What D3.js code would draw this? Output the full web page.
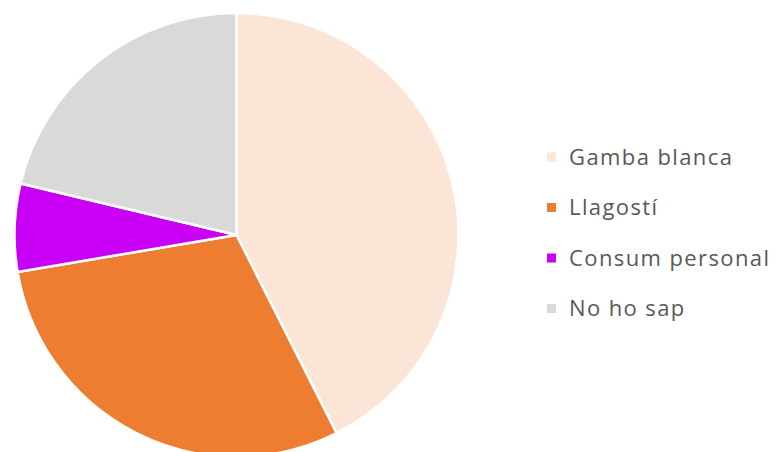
<!DOCTYPE html>
<html>
<head>
<meta charset="utf-8">
<script src="https://cdn.jsdelivr.net/npm/d3@7"></script>
<style>
  body { margin: 0; background: #fff; }
</style>
</head>
<body>
<div id="chart"></div>
<script>
// categories and values (respondents)
var categories = ["Gamba blanca", "Llagostí", "Consum personal", "No ho sap"];
var values = [20, 14, 3, 10];
var colors = ["#FBE5D6", "#ED7D31", "#C800F5", "#D9D9D9"];

var width = 777, height = 452;
var cx = 236.5, cy = 235, radius = 222;

var svg = d3.select("#chart")
    .append("svg")
    .attr("width", width)
    .attr("height", height);

var data = categories.map(function (c, i) { return { name: c, value: values[i], color: colors[i] }; });

var pie = d3.pie()
    .sort(null)
    .value(function (d) { return d.value; });

var arc = d3.arc()
    .innerRadius(0)
    .outerRadius(radius);

// slices
svg.append("g")
    .attr("transform", "translate(" + cx + "," + cy + ")")
    .selectAll("path")
    .data(pie(data))
    .enter()
    .append("path")
    .attr("d", arc)
    .attr("fill", function (d) { return d.data.color; })
    .attr("stroke", "#fff")
    .attr("stroke-width", 2.5)
    .attr("stroke-linejoin", "round");

// legend
var legend = svg.append("g")
    .attr("transform", "translate(547,157)");

var row = legend.selectAll("g")
    .data(data)
    .enter()
    .append("g")
    .attr("transform", function (d, i) { return "translate(0," + (i * 50.5) + ")"; });

row.append("rect")
    .attr("x", 0)
    .attr("y", -4.5)
    .attr("width", 9)
    .attr("height", 9)
    .attr("fill", function (d) { return d.color; });

row.append("text")
    .attr("x", 22)
    .attr("y", 0)
    .attr("dy", "0.35em")
    .style("font-family", "'Open Sans', sans-serif")
    .style("font-size", "22px")
    .style("letter-spacing", "1.4px")
    .style("fill", "#595959")
    .text(function (d) { return d.name; });
</script>
</body>
</html>
